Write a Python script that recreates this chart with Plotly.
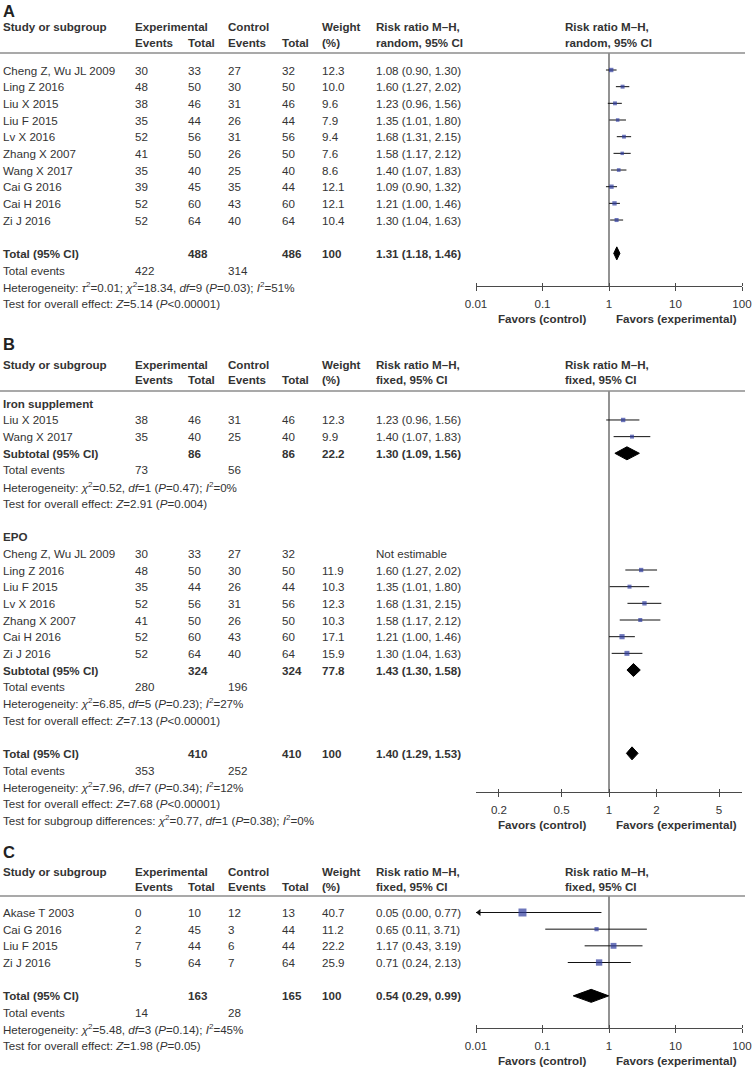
import math
import plotly.graph_objects as go

# ---------------- Panel A data ----------------
studies_A = ["Cheng Z, Wu JL 2009", "Ling Z 2016", "Liu X 2015", "Liu F 2015", "Lv X 2016",
             "Zhang X 2007", "Wang X 2017", "Cai G 2016", "Cai H 2016", "Zi J 2016"]
exp_events_A = [30, 48, 38, 35, 52, 41, 35, 39, 52, 52]
exp_total_A = [33, 50, 46, 44, 56, 50, 40, 45, 60, 64]
ctl_events_A = [27, 30, 31, 26, 31, 26, 25, 35, 43, 40]
ctl_total_A = [32, 50, 46, 44, 56, 50, 40, 44, 60, 64]
weight_A = [12.3, 10.0, 9.6, 7.9, 9.4, 7.6, 8.6, 12.1, 12.1, 10.4]
rr_A = [1.08, 1.60, 1.23, 1.35, 1.68, 1.58, 1.40, 1.09, 1.21, 1.30]
lo_A = [0.90, 1.27, 0.96, 1.01, 1.31, 1.17, 1.07, 0.90, 1.00, 1.04]
hi_A = [1.30, 2.02, 1.56, 1.80, 2.15, 2.12, 1.83, 1.32, 1.46, 1.63]
total_A = [488, 486, 100, 1.31, 1.18, 1.46]          # exp total, ctl total, weight, rr, lo, hi
total_events_A = [422, 314]
het_A = "Heterogeneity: <i>τ</i><sup>2</sup>=0.01; <i>χ</i><sup>2</sup>=18.34, <i>df</i>=9 (<i>P</i>=0.03); <i>I</i><sup>2</sup>=51%"
test_A = "Test for overall effect: <i>Z</i>=5.14 (<i>P</i>&lt;0.00001)"
ticks_A = [0.01, 0.1, 1, 10, 100]
ticklabels_A = ["0.01", "0.1", "1", "10", "100"]

# ---------------- Panel B data ----------------
subgroups_B = ["Iron supplement", "EPO"]
studies_B = [["Liu X 2015", "Wang X 2017"],
             ["Cheng Z, Wu JL 2009", "Ling Z 2016", "Liu F 2015", "Lv X 2016", "Zhang X 2007", "Cai H 2016", "Zi J 2016"]]
exp_events_B = [[38, 35], [30, 48, 35, 52, 41, 52, 52]]
exp_total_B = [[46, 40], [33, 50, 44, 56, 50, 60, 64]]
ctl_events_B = [[31, 25], [27, 30, 26, 31, 26, 43, 40]]
ctl_total_B = [[46, 40], [32, 50, 44, 56, 50, 60, 64]]
weight_B = [[12.3, 9.9], [None, 11.9, 10.3, 12.3, 10.3, 17.1, 15.9]]
rr_B = [[1.23, 1.40], [None, 1.60, 1.35, 1.68, 1.58, 1.21, 1.30]]
lo_B = [[0.96, 1.07], [None, 1.27, 1.01, 1.31, 1.17, 1.00, 1.04]]
hi_B = [[1.56, 1.83], [None, 2.02, 1.80, 2.15, 2.12, 1.46, 1.63]]
sub_exp_total_B = [86, 324]
sub_ctl_total_B = [86, 324]
sub_weight_B = [22.2, 77.8]
sub_rr_B = [1.30, 1.43]
sub_lo_B = [1.09, 1.30]
sub_hi_B = [1.56, 1.58]
sub_events_B = [[73, 56], [280, 196]]
sub_het_B = ["Heterogeneity: <i>χ</i><sup>2</sup>=0.52, <i>df</i>=1 (<i>P</i>=0.47); <i>I</i><sup>2</sup>=0%",
             "Heterogeneity: <i>χ</i><sup>2</sup>=6.85, <i>df</i>=5 (<i>P</i>=0.23); <i>I</i><sup>2</sup>=27%"]
sub_test_B = ["Test for overall effect: <i>Z</i>=2.91 (<i>P</i>=0.004)",
              "Test for overall effect: <i>Z</i>=7.13 (<i>P</i>&lt;0.00001)"]
total_B = [410, 410, 100, 1.40, 1.29, 1.53]
total_events_B = [353, 252]
het_B = "Heterogeneity: <i>χ</i><sup>2</sup>=7.96, <i>df</i>=7 (<i>P</i>=0.34); <i>I</i><sup>2</sup>=12%"
test_B = "Test for overall effect: <i>Z</i>=7.68 (<i>P</i>&lt;0.00001)"
subdiff_B = "Test for subgroup differences: <i>χ</i><sup>2</sup>=0.77, <i>df</i>=1 (<i>P</i>=0.38); <i>I</i><sup>2</sup>=0%"
ticks_B = [0.2, 0.5, 1, 2, 5]
ticklabels_B = ["0.2", "0.5", "1", "2", "5"]

# ---------------- Panel C data ----------------
studies_C = ["Akase T 2003", "Cai G 2016", "Liu F 2015", "Zi J 2016"]
exp_events_C = [0, 2, 7, 5]
exp_total_C = [10, 45, 44, 64]
ctl_events_C = [12, 3, 6, 7]
ctl_total_C = [13, 44, 44, 64]
weight_C = [40.7, 11.2, 22.2, 25.9]
rr_C = [0.05, 0.65, 1.17, 0.71]
lo_C = [0.00, 0.11, 0.43, 0.24]
hi_C = [0.77, 3.71, 3.19, 2.13]
total_C = [163, 165, 100, 0.54, 0.29, 0.99]
total_events_C = [14, 28]
het_C = "Heterogeneity: <i>χ</i><sup>2</sup>=5.48, <i>df</i>=3 (<i>P</i>=0.14); <i>I</i><sup>2</sup>=45%"
test_C = "Test for overall effect: <i>Z</i>=1.98 (<i>P</i>=0.05)"
ticks_C = [0.01, 0.1, 1, 10, 100]
ticklabels_C = ["0.01", "0.1", "1", "10", "100"]

# ---------------- Layout constants ----------------
W, H = 752, 1070
FONT = "Liberation Sans, Arial, sans-serif"
FS = 11.6
TXT = "#333333"
SQ = "#2f3c9e"
AXC = "#4a4a4a"
ROW = 16.67
X_STUDY, X_EE, X_ET, X_CE, X_CT, X_W, X_RR, X_PH = 1, 133, 186, 226, 280, 320, 374, 563
PLOT_L, PLOT_R = 476, 742

ann = []
shapes = []
fig = go.Figure()


def text(x, y, s, bold=False, size=FS, anchor="left", color=TXT):
    if bold:
        s = "<b>" + s + "</b>"
    ann.append(dict(x=x / W, y=1 - y / H, xref="paper", yref="paper", text=s, showarrow=False,
                    xanchor=anchor, yanchor="middle", font=dict(family=FONT, size=size, color=color)))


def header(letter, ly, y1, method):
    text(X_STUDY, ly, letter, bold=True, size=16.5, color="#222222")
    y2 = y1 + 15
    text(X_STUDY, y1, "Study or subgroup", True)
    text(X_EE, y1, "Experimental", True)
    text(X_EE, y2, "Events", True)
    text(X_ET, y2, "Total", True)
    text(X_CE, y1, "Control", True)
    text(X_CE, y2, "Events", True)
    text(X_CT, y2, "Total", True)
    text(X_W, y1, "Weight", True)
    text(X_W, y2, "(%)", True)
    for xx in (X_RR, X_PH):
        text(xx, y1, "Risk ratio M–H,", True)
        text(xx, y2, method + ", 95% CI", True)


def rule(y):
    shapes.append(dict(type="line", xref="paper", yref="paper", x0=0, x1=745 / W,
                       y0=1 - y / H, y1=1 - y / H, line=dict(color="#8c8c8c", width=1.5)))


def fmt_rr(r, l, h):
    return f"{r:.2f} ({l:.2f}, {h:.2f})"


def study_row(y, name, ee, et, ce, ct, w, r, l, h):
    text(X_STUDY, y, name)
    text(X_EE, y, str(ee))
    text(X_ET, y, str(et))
    text(X_CE, y, str(ce))
    text(X_CT, y, str(ct))
    if w is not None:
        text(X_W, y, f"{w:.1f}")
    text(X_RR, y, fmt_rr(r, l, h) if r is not None else "Not estimable")


def total_row(y, label, vals):
    et, ct, w, r, l, h = vals
    text(X_STUDY, y, label, True)
    text(X_ET, y, str(et), True)
    text(X_CT, y, str(ct), True)
    text(X_W, y, str(w) if isinstance(w, int) else f"{w:.1f}", True)
    text(X_RR, y, fmt_rr(r, l, h), True)


def events_row(y, ev):
    text(X_STUDY, y, "Total events")
    text(X_EE, y, str(ev[0]))
    text(X_CE, y, str(ev[1]))


def setup_axis(idx, rule_y, axis_y, tickvals, ticktext, lrange):
    xs = "xaxis" if idx == 1 else f"xaxis{idx}"
    ys = "yaxis" if idx == 1 else f"yaxis{idx}"
    yname = "y" if idx == 1 else f"y{idx}"
    xname = "x" if idx == 1 else f"x{idx}"
    fig.layout[xs] = dict(domain=[PLOT_L / W, PLOT_R / W], type="log", range=lrange, anchor=yname,
                          tickmode="array", tickvals=tickvals, ticktext=ticktext, automargin=False,
                          showline=True, linecolor=AXC, linewidth=1.2, ticks="outside", ticklen=4,
                          tickcolor=AXC, tickwidth=1.2, showgrid=False, zeroline=False,
                          ticklabelstandoff=3,
                          minor=dict(tickmode="array", tickvals=tickvals, ticks="inside", ticklen=3,
                                     tickcolor=AXC, tickwidth=1.2, showgrid=False),
                          tickfont=dict(family=FONT, size=FS, color=TXT), fixedrange=True)
    fig.layout[ys] = dict(domain=[1 - axis_y / H, 1 - rule_y / H], range=[axis_y, rule_y],
                          visible=False, fixedrange=True, automargin=False, anchor=xname)
    # line of no effect
    fig.add_trace(go.Scatter(x=[1, 1], y=[rule_y, axis_y], mode="lines", xaxis=xname, yaxis=yname,
                             line=dict(color=AXC, width=1.2), hoverinfo="skip"))
    # favours labels
    fy = axis_y + 32
    text(542, fy, "Favors (control)", True, anchor="center")
    text(676, fy, "Favors (experimental)", True, anchor="center")
    return xname, yname


def forest(xname, yname, ys, rr, lo, hi, w, xmin):
    cx, cy = [], []
    arrows_x, arrows_y = [], []
    mx, my, ms = [], [], []
    for y, r, l, h, ww in zip(ys, rr, lo, hi, w):
        if r is None:
            continue
        left = l
        if l < xmin:
            left = xmin
            arrows_x.append(xmin * 10 ** 0.045)
            arrows_y.append(y)
        cx += [left, h, None]
        cy += [y, y, None]
        mx.append(r)
        my.append(y)
        ms.append(1.25 * math.sqrt(ww))
    fig.add_trace(go.Scatter(x=cx, y=cy, mode="lines", xaxis=xname, yaxis=yname,
                             line=dict(color="#111111", width=1), hoverinfo="skip"))
    if arrows_x:
        fig.add_trace(go.Scatter(x=arrows_x, y=arrows_y, mode="markers", xaxis=xname, yaxis=yname,
                                 marker=dict(symbol="triangle-left", size=6, color="#111111"),
                                 cliponaxis=False, hoverinfo="skip"))
    fig.add_trace(go.Scatter(x=mx, y=my, mode="markers", xaxis=xname, yaxis=yname,
                             marker=dict(symbol="square", size=ms, color=SQ, line=dict(width=0)),
                             hoverinfo="skip"))


def diamond(xname, yname, y, r, l, h, half=6.5):
    fig.add_trace(go.Scatter(x=[l, r, h, r, l], y=[y, y - half, y, y + half, y], mode="lines",
                             fill="toself", fillcolor="#000000", line=dict(color="#000000", width=1),
                             xaxis=xname, yaxis=yname, hoverinfo="skip"))


# ================= Panel A =================
A_RULE, A_AXIS, A_Y0 = 53, 286, 70
header("A", 11, 27, "random")
rule(A_RULE)
ysA = [A_Y0 + i * ROW for i in range(len(studies_A))]
for i, y in enumerate(ysA):
    study_row(y, studies_A[i], exp_events_A[i], exp_total_A[i], ctl_events_A[i], ctl_total_A[i],
              weight_A[i], rr_A[i], lo_A[i], hi_A[i])
yT = A_Y0 + 11 * ROW
total_row(yT, "Total (95% CI)", total_A)
events_row(yT + ROW, total_events_A)
text(X_STUDY, yT + 2 * ROW, het_A)
text(X_STUDY, yT + 3 * ROW, test_A)
xa, ya = setup_axis(1, A_RULE, A_AXIS, ticks_A, ticklabels_A, [-2, 2])
forest(xa, ya, ysA, rr_A, lo_A, hi_A, weight_A, 0.01)
diamond(xa, ya, yT, total_A[3], total_A[4], total_A[5])

# ================= Panel B =================
B_RULE, B_AXIS, B_Y0 = 391, 792, 403.3
header("B", 344, 364, "fixed")
rule(B_RULE)
xb, yb = setup_axis(2, B_RULE, B_AXIS, ticks_B, ticklabels_B, [-0.845, 0.845])
row = 0
for g in range(len(subgroups_B)):
    text(X_STUDY, B_Y0 + row * ROW, subgroups_B[g], True)
    row += 1
    ys = []
    for i in range(len(studies_B[g])):
        y = B_Y0 + row * ROW
        ys.append(y)
        study_row(y, studies_B[g][i], exp_events_B[g][i], exp_total_B[g][i], ctl_events_B[g][i],
                  ctl_total_B[g][i], weight_B[g][i], rr_B[g][i], lo_B[g][i], hi_B[g][i])
        row += 1
    forest(xb, yb, ys, rr_B[g], lo_B[g], hi_B[g], weight_B[g], 10 ** -0.845)
    ysub = B_Y0 + row * ROW
    total_row(ysub, "Subtotal (95% CI)", [sub_exp_total_B[g], sub_ctl_total_B[g], sub_weight_B[g],
                                           sub_rr_B[g], sub_lo_B[g], sub_hi_B[g]])
    diamond(xb, yb, ysub, sub_rr_B[g], sub_lo_B[g], sub_hi_B[g])
    events_row(ysub + ROW, sub_events_B[g])
    text(X_STUDY, ysub + 2 * ROW, sub_het_B[g])
    text(X_STUDY, ysub + 3 * ROW, sub_test_B[g])
    row += 5
yTB = B_Y0 + row * ROW
total_row(yTB, "Total (95% CI)", total_B)
diamond(xb, yb, yTB, total_B[3], total_B[4], total_B[5])
events_row(yTB + ROW, total_events_B)
text(X_STUDY, yTB + 2 * ROW, het_B)
text(X_STUDY, yTB + 3 * ROW, test_B)
text(X_STUDY, yTB + 4 * ROW, subdiff_B)

# ================= Panel C =================
C_RULE, C_AXIS, C_Y0 = 896, 1028, 912.5
header("C", 852, 871, "fixed")
rule(C_RULE)
xc, yc = setup_axis(3, C_RULE, C_AXIS, ticks_C, ticklabels_C, [-2, 2])
ysC = [C_Y0 + i * ROW for i in range(len(studies_C))]
for i, y in enumerate(ysC):
    study_row(y, studies_C[i], exp_events_C[i], exp_total_C[i], ctl_events_C[i], ctl_total_C[i],
              weight_C[i], rr_C[i], lo_C[i], hi_C[i])
forest(xc, yc, ysC, rr_C, lo_C, hi_C, weight_C, 0.01)
yTC = C_Y0 + 5 * ROW
total_row(yTC, "Total (95% CI)", total_C)
diamond(xc, yc, yTC, total_C[3], total_C[4], total_C[5])
events_row(yTC + ROW, total_events_C)
text(X_STUDY, yTC + 2 * ROW, het_C)
text(X_STUDY, yTC + 3 * ROW, test_C)

fig.update_layout(template="none", width=W, height=H,
                  margin=dict(l=0, r=0, t=0, b=0, pad=0, autoexpand=False), showlegend=False,
                  paper_bgcolor="white", plot_bgcolor="white", annotations=ann, shapes=shapes,
                  font=dict(family=FONT, size=FS, color=TXT), hovermode=False)
fig.write_html("out.html", config={"displayModeBar": False},
               post_script="document.body.style.margin='0px';document.body.style.overflow='hidden';")
